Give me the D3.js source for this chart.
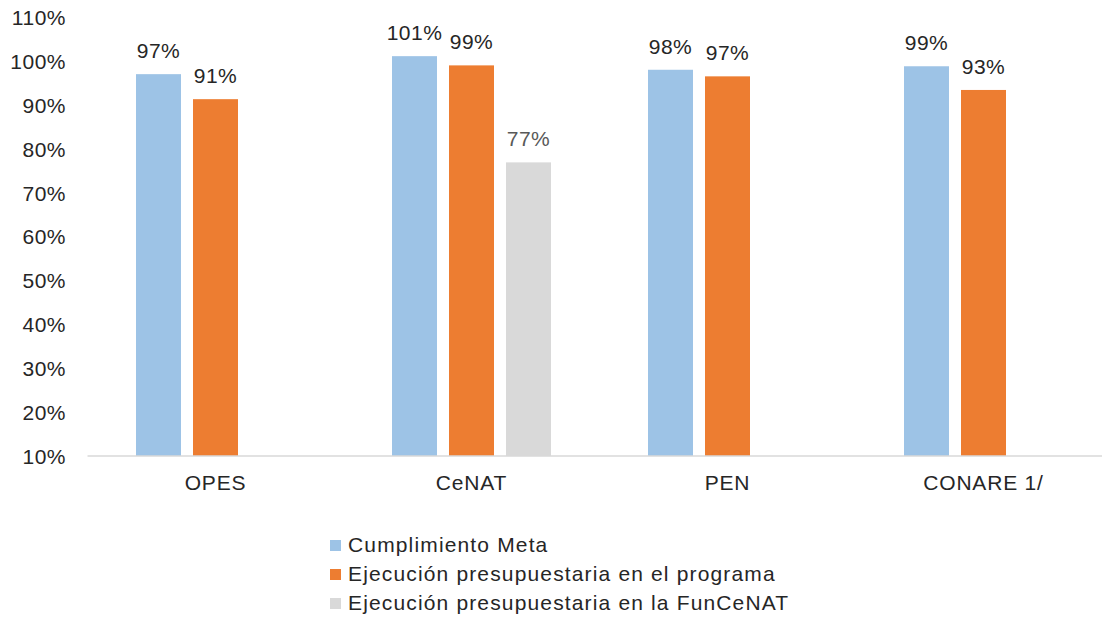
<!DOCTYPE html>
<html>
<head>
<meta charset="utf-8">
<script src="https://cdn.jsdelivr.net/npm/d3@7"></script>
<style>
  html, body { margin: 0; padding: 0; background: #fff; }
  svg { display: block; font-family: "Liberation Sans", Arial, sans-serif; }
</style>
</head>
<body>
<svg id="chart" width="1102" height="622"></svg>
<script>
const categories = ["OPES", "CeNAT", "PEN", "CONARE 1/"];
const seriesNames = ["Cumplimiento Meta", "Ejecución presupuestaria en el programa", "Ejecución presupuestaria en la FunCeNAT"];
// values in %, null = no bar
const cumplimientoMeta = [97.0, 101.1, 98.0, 98.8];
const ejecucionPrograma = [91.3, 99.0, 96.5, 93.4];
const ejecucionFunCeNAT = [null, 76.9, null, null];
const yTicks = [10, 20, 30, 40, 50, 60, 70, 80, 90, 100, 110];

const seriesValues = [cumplimientoMeta, ejecucionPrograma, ejecucionFunCeNAT];

// styles
const seriesColors = ["#9DC3E6", "#ED7D31", "#D9D9D9"];
const labelColors = ["#262626", "#262626", "#595959"];
const textColor = "#262626";

const svg = d3.select("#chart");

const y = d3.scaleLinear().domain([10, 110]).range([456, 17.1]);
const x0 = d3.scaleBand().domain(categories).range([87.5, 1111.5]).paddingInner(0).paddingOuter(0);
const x1 = d3.scaleBand().domain(d3.range(seriesNames.length))
  .range([48.5, 256 - 48.5]).paddingInner(12 / 57).paddingOuter(0);

// y axis (labels only)
const yAxis = d3.axisLeft(y).tickValues(yTicks).tickFormat(d => d + "%").tickSize(0).tickPadding(0);
const gy = svg.append("g").attr("transform", "translate(66,0)").call(yAxis);
gy.select(".domain").remove();
gy.selectAll("text").attr("fill", textColor).style("font-size", "21px")
  .style("letter-spacing", "0.5px")
  .style("font-family", "'Liberation Sans', Arial, sans-serif").attr("dy", "0.35em");

// bars
const data = [];
categories.forEach((c, ci) => {
  seriesValues.forEach((vals, si) => {
    if (vals[ci] != null) data.push({ c, si, v: vals[ci] });
  });
});

svg.append("g").selectAll("rect").data(data).join("rect")
  .attr("x", d => x0(d.c) + x1(d.si))
  .attr("y", d => y(d.v))
  .attr("width", x1.bandwidth())
  .attr("height", d => y(10) - y(d.v))
  .attr("fill", d => seriesColors[d.si]);

// data labels
const fmt = d3.format(".0%");
svg.append("g").selectAll("text").data(data).join("text")
  .attr("x", d => x0(d.c) + x1(d.si) + x1.bandwidth() / 2)
  .attr("y", d => y(d.v) - 16)
  .attr("text-anchor", "middle")
  .attr("fill", d => labelColors[d.si])
  .style("font-size", "21px")
  .style("letter-spacing", "0.5px")
  .text(d => fmt(d.v / 100));

// x axis
const xAxis = d3.axisBottom(x0).tickSize(0).tickPadding(0);
const gx = svg.append("g").attr("transform", `translate(0,${y(10)})`).call(xAxis);
gx.select(".domain").remove();
gx.selectAll("text").attr("fill", textColor).style("font-size", "21px")
  .style("letter-spacing", "0.8px")
  .style("font-family", "'Liberation Sans', Arial, sans-serif").attr("dy", "34px");
svg.append("line").attr("x1", 87.5).attr("x2", 1102).attr("y1", y(10)).attr("y2", y(10))
  .attr("stroke", "#D9D9D9").attr("stroke-width", 1.5);

// legend
const legend = svg.append("g").attr("transform", "translate(330,0)");
const lg = legend.selectAll("g").data(seriesNames).join("g")
  .attr("transform", (d, i) => `translate(0,${552 + i * 29})`);
lg.append("rect").attr("x", 0).attr("y", -12).attr("width", 11).attr("height", 11)
  .attr("fill", (d, i) => seriesColors[i]);
lg.append("text").attr("x", 18).attr("y", 0).attr("fill", textColor)
  .style("font-size", "21px").style("letter-spacing", "1.15px").text(d => d);
</script>
</body>
</html>
